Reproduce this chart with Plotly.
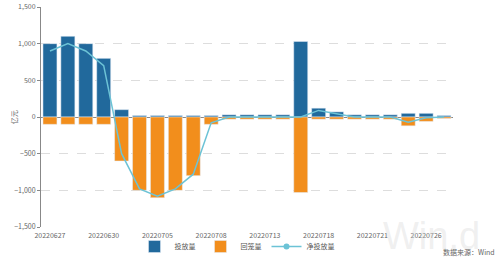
import plotly.graph_objects as go

dates = ["20220627","20220628","20220629","20220630","20220701","20220704","20220705",
         "20220706","20220707","20220708","20220711","20220712","20220713","20220714",
         "20220715","20220718","20220719","20220720","20220721","20220722","20220725",
         "20220726","20220727"]
invest = [1000, 1100, 1000, 800, 100, 20, 20, 20, 20, 20, 30, 30, 30, 30,
          1030, 120, 70, 30, 30, 30, 50, 50, 20]
mature = [-100, -100, -100, -100, -600, -1000, -1100, -1000, -800, -100, -30, -30, -30, -30,
          -1030, -30, -30, -30, -30, -30, -120, -60, -20]
net = [900, 1000, 900, 700, -500, -980, -1080, -980, -780, -80, 0, 0, 0, 0,
       0, 90, 40, 0, 0, 0, -70, -10, 0]
tick_dates = ["20220627","20220630","20220705","20220708","20220713","20220718","20220721","20220726"]
y_ticks = [-1500, -1000, -500, 0, 500, 1000, 1500]

BLUE = "#21699c"
ORANGE = "#f28e1c"
TEAL = "#6cc3d6"
FONT = "Noto Sans CJK SC"

fig = go.Figure()
fig.add_trace(go.Bar(x=dates, y=invest, name="投放量", marker_color=BLUE, width=0.78))
fig.add_trace(go.Bar(x=dates, y=mature, name="回笼量", marker_color=ORANGE, width=0.78))
fig.add_trace(go.Scatter(x=dates, y=net, mode="lines", line=dict(color=TEAL, width=1.5),
                         showlegend=False))
fig.add_trace(go.Scatter(x=[None], y=[None], mode="lines+markers", name="净投放量",
                         line=dict(color=TEAL, width=1.5), marker=dict(size=6, color=TEAL)))

fig.update_layout(
    width=500, height=257,
    margin=dict(l=41, r=47, t=7, b=30, autoexpand=False),
    barmode="relative",
    paper_bgcolor="white", plot_bgcolor="white",
    font=dict(family=FONT, size=7, color="#666"),
    showlegend=True,
    legend=dict(orientation="h", xref="container", yref="container",
                x=237 / 500, xanchor="center", y=1 - 246.5 / 257, yanchor="middle",
                font=dict(size=7, color="#555"), itemwidth=30, tracegroupgap=0,
                bgcolor="rgba(0,0,0,0)", borderwidth=0),
    xaxis=dict(type="category", range=[-0.5, 22.5], tickmode="array", tickvals=tick_dates,
               ticktext=tick_dates, showgrid=False, showline=False, ticks="outside",
               ticklen=2, tickcolor="rgba(0,0,0,0)",
               tickfont=dict(size=7, color="#666"), automargin=False),
    yaxis=dict(range=[-1500, 1500], tickvals=y_ticks, tickformat=",", showgrid=True,
               gridcolor="#dddddd", griddash="dash", gridwidth=1,
               zeroline=True, zerolinecolor="#888", zerolinewidth=1,
               showline=True, linecolor="#888", linewidth=1, ticks="outside", ticklen=3,
               tickcolor="#888", tickfont=dict(size=7, color="#666"), automargin=False),
)

fig.add_annotation(xref="paper", yref="paper", x=-0.082, y=0.5, text="亿元", textangle=-90,
                   showarrow=False, font=dict(size=7, color="#666"))
fig.add_annotation(xref="paper", yref="paper", x=1.07, y=(227 - 213) / 220, xanchor="right",
                   yanchor="top", text="Win.d", showarrow=False,
                   font=dict(size=38, color="rgba(215,215,215,0.4)", family="Liberation Sans"))
fig.add_annotation(xref="paper", yref="paper", x=(497 - 41) / 412, y=(227 - 252) / 220,
                   xanchor="right", yanchor="middle",
                   text="数据来源：Wind", showarrow=False, font=dict(size=7, color="#666"))

fig.write_html("out.html")
